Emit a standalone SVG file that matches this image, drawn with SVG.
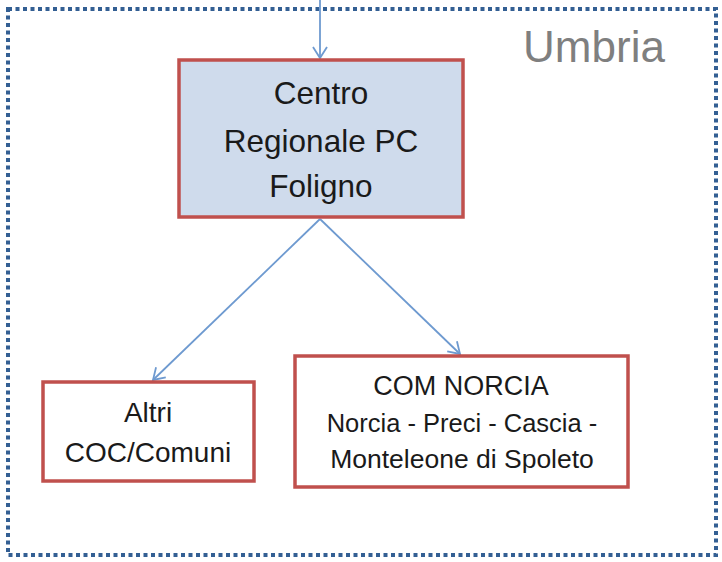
<svg xmlns="http://www.w3.org/2000/svg" width="722" height="562" viewBox="0 0 722 562">
<defs>
<style>
.box{stroke:#C0504D;stroke-width:3.5}
.t{font-family:"Liberation Sans",Arial,sans-serif;fill:#1a1a1a;text-anchor:middle}
.conn{stroke:#6E9AD0;stroke-width:1.8;fill:none}
</style>
<marker id="arr" markerUnits="userSpaceOnUse" markerWidth="14" markerHeight="16" refX="12" refY="8" orient="auto">
<path d="M1,1 L12,8 L1,15" fill="none" stroke="#6E9AD0" stroke-width="1.8"/>
</marker>
</defs>
<rect width="722" height="562" fill="#ffffff"/>
<g id="umbria">
<rect x="8" y="9" width="708" height="546" fill="none" stroke="#335F93" stroke-width="4" stroke-dasharray="4 3.5"/>
<text x="594" y="62" font-family="Liberation Sans,Arial,sans-serif" font-size="44" fill="#7F7F7F" text-anchor="middle">Umbria</text>
</g>
<g id="connectors">
<line class="conn" x1="320" y1="0" x2="320" y2="58" marker-end="url(#arr)"/>
<line class="conn" x1="320" y1="219" x2="153" y2="380" marker-end="url(#arr)"/>
<line class="conn" x1="320" y1="219" x2="460" y2="354" marker-end="url(#arr)"/>
</g>
<g id="centro">
<rect class="box" x="179" y="60" width="284" height="157" fill="#CFDBEC"/>
<text class="t" font-size="31.5" x="321" y="104">Centro</text>
<text class="t" font-size="31.5" x="321" y="152">Regionale PC</text>
<text class="t" font-size="31.5" x="321" y="197">Foligno</text>
</g>
<g id="altri">
<rect class="box" x="43" y="382" width="211" height="99" fill="#ffffff"/>
<text class="t" font-size="28" x="148" y="422">Altri</text>
<text class="t" font-size="28" x="148" y="462">COC/Comuni</text>
</g>
<g id="com-norcia">
<rect class="box" x="295" y="356" width="333" height="131" fill="#ffffff"/>
<text class="t" font-size="27" x="461" y="395">COM NORCIA</text>
<text class="t" font-size="25.5" x="462" y="432">Norcia - Preci - Cascia -</text>
<text class="t" font-size="26.5" x="462" y="468">Monteleone di Spoleto</text>
</g>
</svg>
